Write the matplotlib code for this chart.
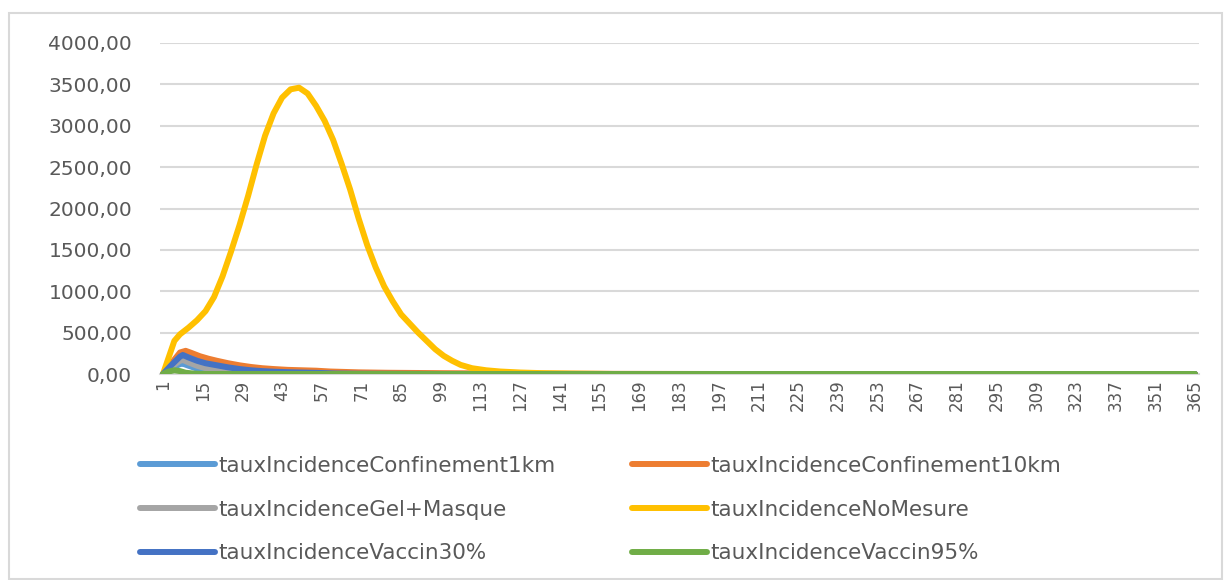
import matplotlib
matplotlib.use("Agg")
import matplotlib.pyplot as plt
from matplotlib.patches import Rectangle

plt.rcParams['font.family'] = ['DejaVu Sans']

# ---- data ----
days_1km = [1, 4, 7, 8, 10, 13, 16, 20, 25, 30, 40, 365]
vals_1km = [0, 70, 120, 125, 100, 65, 40, 20, 8, 3, 0, 0]

days_10km = [1, 4, 7, 9, 11, 14, 17, 20, 24, 28, 32, 36, 40, 45, 50, 55, 60, 70, 80, 100, 130, 160, 200, 365]
vals_10km = [0, 130, 260, 280, 255, 215, 185, 160, 130, 105, 85, 70, 60, 50, 45, 40, 30, 20, 15, 10, 5, 2, 0, 0]

days_gel = [1, 4, 7, 8, 10, 13, 16, 20, 24, 28, 32, 40, 50, 365]
vals_gel = [0, 90, 160, 170, 140, 100, 70, 45, 28, 16, 8, 3, 0, 0]

days_nomes = [1, 3, 5, 7, 10, 13, 16, 19, 22, 25, 28, 31, 34, 37, 40, 43, 46, 49, 52, 55, 58, 61, 64,
              67, 70, 73, 76, 79, 82, 85, 88, 91, 94, 97, 100, 103, 106, 110, 115, 120, 127, 135, 145,
              155, 160, 365]
vals_nomes = [0, 200, 400, 480, 560, 650, 760, 930, 1180, 1480, 1800, 2150, 2530, 2880, 3150, 3340,
              3440, 3460, 3390, 3240, 3060, 2830, 2540, 2230, 1880, 1560, 1290, 1060, 880, 720, 610,
              500, 400, 300, 220, 160, 110, 70, 45, 30, 18, 10, 5, 2, 0, 0]

days_v30 = [1, 4, 7, 8, 10, 13, 16, 20, 24, 28, 32, 36, 40, 45, 50, 57, 62, 70, 100, 365]
vals_v30 = [0, 110, 210, 230, 200, 160, 130, 105, 80, 60, 45, 35, 28, 22, 18, 12, 6, 3, 0, 0]

days_v95 = [1, 3, 5, 7, 9, 12, 16, 365]
vals_v95 = [0, 30, 45, 35, 15, 5, 0, 0]

series_names = ["tauxIncidenceConfinement1km", "tauxIncidenceConfinement10km",
                "tauxIncidenceGel+Masque", "tauxIncidenceNoMesure",
                "tauxIncidenceVaccin30%", "tauxIncidenceVaccin95%"]
series_colors = ["#5B9BD5", "#ED7D31", "#A5A5A5", "#FFC000", "#4472C4", "#70AD47"]

x_ticks = list(range(1, 366, 14))
y_ticks = [0, 500, 1000, 1500, 2000, 2500, 3000, 3500, 4000]

# ---- figure ----
W, H = 1224, 580
fig = plt.figure(figsize=(W / 100, H / 100), dpi=100)

def fx(px):
    return px / W

def fy(py):
    return 1 - py / H

ax_l, ax_r, ax_t, ax_b = 160, 1199, 43, 374
ax = fig.add_axes([fx(ax_l), fy(ax_b), (ax_r - ax_l) / W, (ax_b - ax_t) / H])

data = [(days_1km, vals_1km), (days_10km, vals_10km), (days_gel, vals_gel),
        (days_nomes, vals_nomes), (days_v30, vals_v30), (days_v95, vals_v95)]
handles = []
for (d, v), name, c in zip(data, series_names, series_colors):
    h, = ax.plot(d, v, color=c, lw=4.3, solid_joinstyle='round', solid_capstyle='round',
                 label=name, zorder=3)
    handles.append(h)

pxd = (1195 - 163) / 364.0
ax.set_xlim(1 - (163 - ax_l) / pxd, 365 + (ax_r - 1195) / pxd)
ax.set_ylim(0, 4000)

ax.set_yticks(y_ticks)
ax.set_yticklabels([f"{v:.2f}".replace('.', ',') for v in y_ticks])
ax.set_xticks(x_ticks)
ax.set_xticklabels([str(t) for t in x_ticks], rotation=90)

ax.tick_params(axis='y', length=0, pad=20, labelsize=14.5, labelcolor="#595959")
ax.tick_params(axis='x', length=0, pad=4, labelsize=12, labelcolor="#595959")

ax.grid(axis='y', color="#D9D9D9", lw=1.5, zorder=0)
ax.set_axisbelow(True)
for s in ['top', 'right', 'left']:
    ax.spines[s].set_visible(False)
ax.spines['bottom'].set_color("#D9D9D9")
ax.spines['bottom'].set_linewidth(1.5)

# ---- legend (two columns, row-wise order as in reference) ----
fs = 15.5
leg_kw = dict(frameon=False, fontsize=fs, handlelength=3.5, handletextpad=0.15,
              labelspacing=1.1, borderpad=0, borderaxespad=0, loc='upper left',
              labelcolor="#595959")
fig.legend([handles[0], handles[2], handles[4]],
           [series_names[0], series_names[2], series_names[4]],
           bbox_to_anchor=(fx(140), fy(456)), **leg_kw)
fig.legend([handles[1], handles[3], handles[5]],
           [series_names[1], series_names[3], series_names[5]],
           bbox_to_anchor=(fx(632), fy(456)), **leg_kw)

# ---- outer chart border ----
fig.patches.append(Rectangle((fx(9), fy(579)), fx(1222) - fx(9), fy(13) - fy(579),
                             transform=fig.transFigure, fill=False,
                             edgecolor="#D9D9D9", lw=1.5))

fig.savefig("out.png", dpi=100)
